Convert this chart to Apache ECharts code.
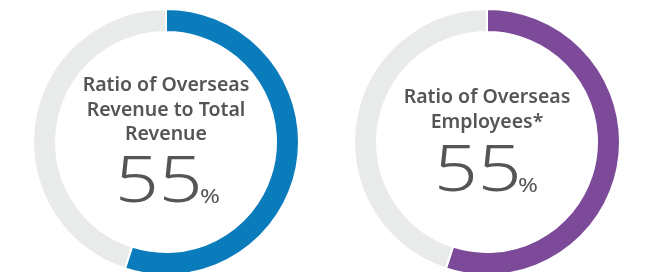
<!DOCTYPE html>
<html>
<head>
<meta charset="utf-8">
<script src="https://cdn.jsdelivr.net/npm/echarts@6/dist/echarts.min.js"></script>
<style>
  html, body { margin: 0; padding: 0; background: #fff; }
  #chart { width: 645px; height: 272px; }
</style>
</head>
<body>
<div id="chart"></div>
<script>
// ring labels and values (percent)
const ringTitles = ['Ratio of Overseas\nRevenue to Total\nRevenue', 'Ratio of Overseas\nEmployees*'];
const ringValues = [55, 55];
const ringColors = ['#0a7bbb', '#7c4a99'];
const restColor = '#e9ebeb';

const centers = [[166, 142], [487, 142]];
const textColor = '#555555';
const font = '"Noto Sans", "Open Sans", sans-serif';

let chart = echarts.init(document.getElementById('chart'));

const series = ringValues.map((v, i) => ({
  type: 'pie',
  center: centers[i],
  radius: [110, 133],
  startAngle: 90,
  clockwise: true,
  silent: true,
  label: { show: false },
  labelLine: { show: false },
  itemStyle: { borderColor: '#fff', borderWidth: 2 },
  data: [
    { value: v, name: 'share', itemStyle: { color: ringColors[i] } },
    { value: 100 - v, name: 'rest', itemStyle: { color: restColor } }
  ]
}));

// text placement per ring
const titleY = [110, 110];
const numberMidY = [184, 173];
const numberX = [115, 434];
const pctX = [200, 518];
const graphics = [];
ringTitles.forEach((t, i) => {
  graphics.push({
    type: 'text',
    x: centers[i][0],
    y: titleY[i],
    style: {
      text: t,
      align: 'center',
      verticalAlign: 'middle',
      fill: textColor,
      font: '600 19.5px ' + font,
      lineHeight: 24.5
    }
  });
  graphics.push({
    type: 'text',
    x: numberX[i],
    y: numberMidY[i],
    scaleX: 1.2,
    style: {
      text: String(ringValues[i]),
      align: 'left',
      verticalAlign: 'middle',
      fill: textColor,
      font: '300 64px ' + font
    }
  });
  graphics.push({
    type: 'text',
    x: pctX[i],
    y: numberMidY[i] + 13,
    scaleX: 1.2,
    style: {
      text: '%',
      align: 'left',
      verticalAlign: 'middle',
      fill: textColor,
      font: '400 20px ' + font
    }
  });
});

chart.setOption({
  animation: false,
  series: series,
  graphic: graphics
});
</script>
</body>
</html>
